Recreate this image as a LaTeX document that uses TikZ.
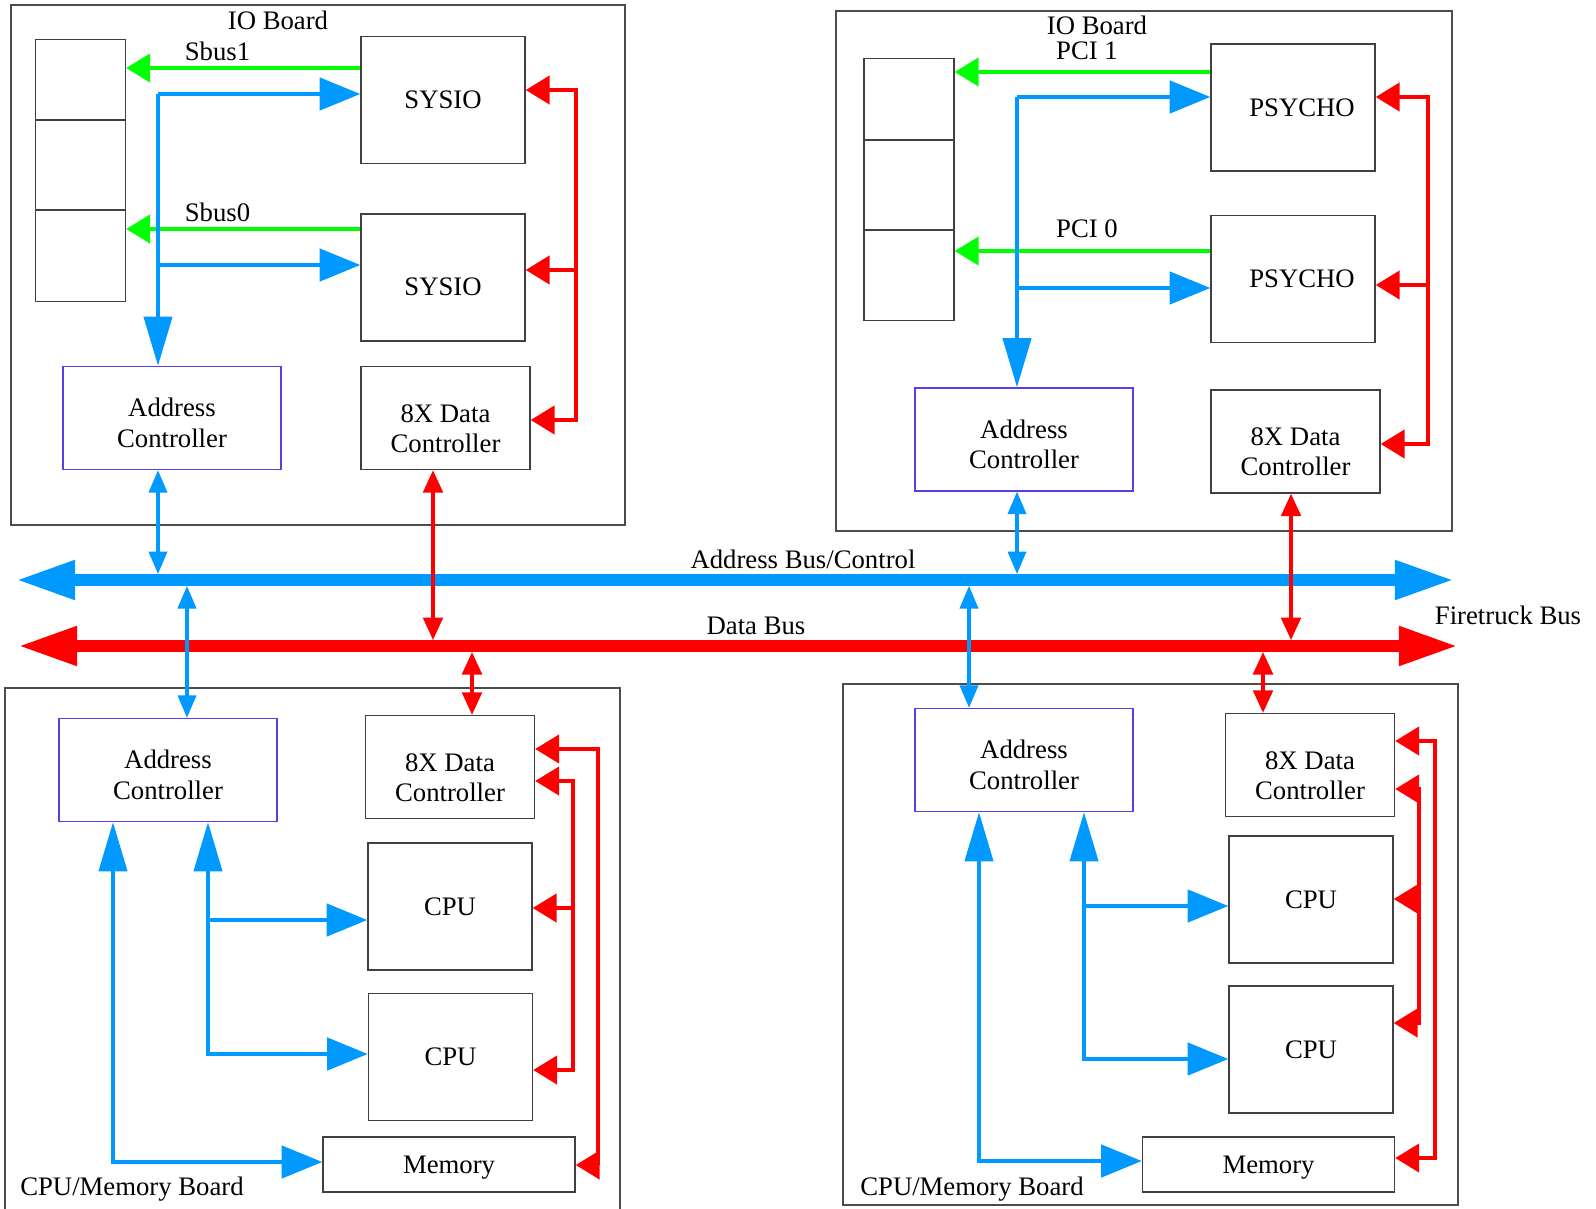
\documentclass[tikz,border=0pt]{standalone}
\usepackage{fontspec}
\setmainfont{Liberation Serif}
\usetikzlibrary{arrows.meta}
\newdimen\px \px=0.0125cm
\definecolor{busblue}{RGB}{0,153,255}
\definecolor{busred}{RGB}{255,0,0}
\definecolor{busgreen}{RGB}{0,255,0}
\definecolor{ctrlblue}{RGB}{90,60,235}

\begin{document}
\begin{tikzpicture}[x=0.0125cm,y=-0.0125cm,
    font=\fontsize{9.5}{10.8}\selectfont,
    board/.style={draw=black!70,line width=0.5pt,inner sep=0pt},
    board title/.style={inner sep=0pt},
    chip/.style={draw=black!75,line width=0.5pt,inner sep=0pt,align=center,
      minimum width=164\px,minimum height=127\px},
    data chip/.style={chip,minimum width=169\px,minimum height=103\px,text height=24.6pt},
    addr chip/.style={chip,draw=ctrlblue,minimum width=218\px,minimum height=103\px,text height=20.8pt},
    mem chip/.style={chip,minimum width=252\px,minimum height=55\px,text depth=0pt},
    slot box/.style={chip,minimum width=90\px,minimum height=262\px},
    blue line/.style={draw=busblue,line width=1.4pt},
    blue arrow/.style={blue line,-{Triangle[length=14.5pt,width=11.5pt]}},
    blue drop/.style={blue line,-{Triangle[length=17.5pt,width=10pt]}},
    blue rise/.style={blue line,{Triangle[length=17.5pt,width=10pt]}-{Triangle[length=14.5pt,width=11.5pt]}},
    green arrow/.style={draw=busgreen,line width=1.4pt,-{Triangle[length=8.5pt,width=10pt]}},
    red arrow/.style={draw=busred,line width=1.4pt,-{Triangle[length=8.5pt,width=10pt]}},
    blue link/.style={draw=busblue,line width=1.1pt,{Triangle[length=8pt,width=6.5pt]}-{Triangle[length=8pt,width=6.5pt]}},
    red link/.style={draw=busred,line width=1.2pt,{Triangle[length=8pt,width=7pt]}-{Triangle[length=8pt,width=7pt]}},
    addr bus/.style={draw=busblue,line width=4.3pt,{Triangle[length=21pt,width=13pt]}-{Triangle[length=21pt,width=13pt]}},
    data bus/.style={draw=busred,line width=4.3pt,{Triangle[length=21pt,width=13pt]}-{Triangle[length=21pt,width=13pt]}}]
    \useasboundingbox[fill=white] (0,0) rectangle (1596,1208);

    % boards
    \node[board,minimum width=614\px,minimum height=520\px] (ioA) at (318,265) {};
    \node[board,minimum width=616\px,minimum height=520\px] (ioB) at (1144,271) {};
    \node[board,minimum width=615\px,minimum height=527\px] (cpuBoardA) at (312.5,951.5) {};
    \node[board,minimum width=615\px,minimum height=521\px] (cpuBoardB) at (1150.5,944.5) {};
    \node[board title] at (278,20) {IO Board};
    \node[board title] at (1097,25) {IO Board};
    \node[board title] at (1087,51) {PCI 1};
    \node[board title] at (1087,229) {PCI 0};
    \node[board title] at (132,1189) {CPU/Memory Board};
    \node[board title] at (972,1189) {CPU/Memory Board};

    % IO board, Sbus
    \node[slot box] (slotA) at (80.5,170.5) {};
    \draw[black!75,line width=0.5pt] (slotA.west |- 0,120) -- (slotA.east |- 0,120)
      (slotA.west |- 0,210) -- (slotA.east |- 0,210);
    \node[chip] (sysioA) at (443,100) {SYSIO};
    \node[chip,text height=12.8pt] (sysioB) at (443,277.5) {SYSIO};
    \node[addr chip] (addrA) at (172,418) {Address\\Controller};
    \node[data chip] (dataA) at (445.5,418) {8X Data\\Controller};

    % IO board, PCI
    \node[slot box] (slotB) at (909,189.5) {};
    \draw[black!75,line width=0.5pt] (slotB.west |- 0,140) -- (slotB.east |- 0,140)
      (slotB.west |- 0,230) -- (slotB.east |- 0,230);
    \node[chip] (psychoA) at (1293,107.5) {\hspace*{18\px}PSYCHO};
    \node[chip] (psychoB) at (1293,279) {\hspace*{18\px}PSYCHO};
    \node[addr chip] (addrB) at (1024,439.5) {Address\\Controller};
    \node[data chip] (dataB) at (1295.5,441.5) {8X Data\\Controller};

    % CPU/Memory boards
    \node[addr chip] (addrC) at (168,770) {Address\\Controller};
    \node[data chip] (dataC) at (450,767) {8X Data\\Controller};
    \node[chip] (cpuA) at (450,906.5) {CPU};
    \node[chip] (cpuB) at (450.5,1057) {CPU};
    \node[mem chip] (memA) at (449,1164.5) {Memory};
    \node[addr chip] (addrD) at (1024,760) {Address\\Controller};
    \node[data chip] (dataD) at (1310,765) {8X Data\\Controller};
    \node[chip] (cpuC) at (1311,899.5) {CPU};
    \node[chip] (cpuD) at (1311,1049.5) {CPU};
    \node[mem chip] (memB) at (1268.5,1164.5) {Memory};

    % Firetruck bus
    \coordinate (abusW) at (16,580);
    \coordinate (abusE) at (1454,580);
    \coordinate (dbusW) at (18,646);
    \coordinate (dbusE) at (1458,646);
    \coordinate (abusT) at (0,574);
    \coordinate (abusB) at (0,586);
    \coordinate (dbusT) at (0,640);
    \coordinate (dbusB) at (0,652);
    \draw[addr bus] (abusW) -- (abusE);
    \draw[data bus] (dbusW) -- (dbusE);
    \node[board title] at (803,559) {Address Bus/Control};
    \node[board title] at (756,626) {Data Bus};
    \node[board title] at (1508,615) {Firetruck Bus};

    % Sbus side
    \coordinate (gA1) at (0,68);
    \coordinate (gA2) at (0,229);
    \draw[green arrow] (sysioA.west |- gA1) -- (slotA.east |- gA1) node[board title,pos=0.61,above=2pt] {Sbus1};
    \draw[green arrow] (sysioB.west |- gA2) -- (slotA.east |- gA2) node[board title,pos=0.61,above=2pt] {Sbus0};
    \coordinate (trunkA) at (158,94);
    \coordinate (sbusA) at (158,265);
    \draw[blue drop] (trunkA) -- (trunkA |- addrA.north);
    \draw[blue arrow] (trunkA) -- (trunkA -| sysioA.west);
    \draw[blue arrow] (sbusA) -- (sbusA -| sysioB.west);
    \coordinate (rA1) at (576,90);
    \coordinate (rA2) at (576,270);
    \coordinate (rA3) at (576,420);
    \draw[red arrow] (rA3) -- (rA1) -- (rA1 -| sysioA.east);
    \draw[red arrow] (rA2) -- (rA2 -| sysioB.east);
    \draw[red arrow] (rA1) -- (rA3) -- (rA3 -| dataA.east);
    \draw[blue link] (trunkA |- addrA.south) -- (trunkA |- abusT);
    \coordinate (dlinkA) at (433,0);
    \draw[red link] (dlinkA |- dataA.south) -- (dlinkA |- dbusT);

    % PCI side
    \coordinate (gB1) at (0,72);
    \coordinate (gB2) at (0,251);
    \draw[green arrow] (psychoA.west |- gB1) -- (slotB.east |- gB1);
    \draw[green arrow] (psychoB.west |- gB2) -- (slotB.east |- gB2);
    \coordinate (trunkB) at (1017,97);
    \coordinate (pciB) at (1017,288);
    \draw[blue drop] (trunkB) -- (trunkB |- addrB.north);
    \draw[blue arrow] (trunkB) -- (trunkB -| psychoA.west);
    \draw[blue arrow] (pciB) -- (pciB -| psychoB.west);
    \coordinate (rB1) at (1428,97);
    \coordinate (rB2) at (1428,285);
    \coordinate (rB3) at (1428,444);
    \draw[red arrow] (rB3) -- (rB1) -- (rB1 -| psychoA.east);
    \draw[red arrow] (rB2) -- (rB2 -| psychoB.east);
    \draw[red arrow] (rB1) -- (rB3) -- (rB3 -| dataB.east);
    \draw[blue link] (trunkB |- addrB.south) -- (trunkB |- abusT);
    \coordinate (dlinkB) at (1291,0);
    \draw[red link] (dlinkB |- dataB.south) -- (dlinkB |- dbusT);

    % left CPU/Memory board
    \coordinate (alinkC) at (187,0);
    \coordinate (dlinkC) at (472,0);
    \draw[blue link] (alinkC |- abusB) -- (alinkC |- addrC.north);
    \draw[red link] (dlinkC |- dbusB) -- (dlinkC |- dataC.north);
    \coordinate (memLinkA) at (113,1162);
    \coordinate (cpuLinkA) at (208,920);
    \coordinate (cpuLinkB) at (208,1054);
    \draw[blue rise] (memLinkA |- addrC.south) -- (memLinkA) -- (memLinkA -| memA.west);
    \draw[blue rise] (cpuLinkA |- addrC.south) -- (cpuLinkB) -- (cpuLinkB -| cpuB.west);
    \draw[blue arrow] (cpuLinkA) -- (cpuLinkA -| cpuA.west);
    \coordinate (rC1) at (573,781);
    \coordinate (rC2) at (573,908);
    \coordinate (rC3) at (573,1070);
    \coordinate (rC4) at (598,749);
    \coordinate (rC5) at (598,1165);
    \draw[red arrow] (rC3) -- (rC1) -- (rC1 -| dataC.east);
    \draw[red arrow] (rC2) -- (rC2 -| cpuA.east);
    \draw[red arrow] (rC1) -- (rC3) -- (rC3 -| cpuB.east);
    \draw[red arrow] (rC5) -- (rC4) -- (rC4 -| dataC.east);
    \draw[red arrow] (rC4) -- (rC5) -- (rC5 -| memA.east);

    % right CPU/Memory board
    \coordinate (alinkD) at (969,0);
    \coordinate (dlinkD) at (1263,0);
    \draw[blue link] (alinkD |- abusB) -- (alinkD |- addrD.north);
    \draw[red link] (dlinkD |- dbusB) -- (dlinkD |- dataD.north);
    \coordinate (memLinkB) at (979,1161);
    \coordinate (cpuLinkC) at (1084,906);
    \coordinate (cpuLinkD) at (1084,1059);
    \draw[blue rise] (memLinkB |- addrD.south) -- (memLinkB) -- (memLinkB -| memB.west);
    \draw[blue rise] (cpuLinkC |- addrD.south) -- (cpuLinkD) -- (cpuLinkD -| cpuD.west);
    \draw[blue arrow] (cpuLinkC) -- (cpuLinkC -| cpuC.west);
    \coordinate (rD1) at (1419,789);
    \coordinate (rD2) at (1419,899);
    \coordinate (rD3) at (1419,1023);
    \coordinate (rD4) at (1435,741);
    \coordinate (rD5) at (1435,1158);
    \draw[red arrow] (rD3) -- (rD1) -- (rD1 -| dataD.east);
    \draw[red arrow] (rD2) -- (rD2 -| cpuC.east);
    \draw[red arrow] (rD1) -- (rD3) -- (rD3 -| cpuD.east);
    \draw[red arrow] (rD5) -- (rD4) -- (rD4 -| dataD.east);
    \draw[red arrow] (rD4) -- (rD5) -- (rD5 -| memB.east);
\end{tikzpicture}
\end{document}
